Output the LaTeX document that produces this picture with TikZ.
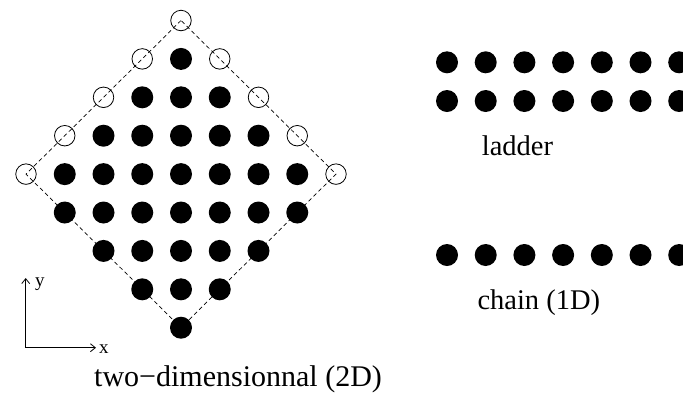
\documentclass[tikz,border=0pt]{standalone}
\usepackage{fontspec}
\setmainfont{Liberation Serif}
\usetikzlibrary{arrows.meta}
\begin{document}
\begin{tikzpicture}[x=1bp,y=-1bp,
  dot/.style={circle,fill=black,minimum size=22bp,inner sep=0pt},
  site/.style={circle,draw=black,line width=0.8bp,minimum size=20.5bp,inner sep=0pt},
  edge/.style={dash pattern=on 4bp off 3bp,line width=0.7bp},
  axis/.style={line width=0.8bp,-{Straight Barb[length=5bp,width=8bp]}},
  lbl/.style={inner sep=0pt,anchor=base west,font=\fontsize{28.5bp}{30bp}\selectfont},
  axlbl/.style={inner sep=0pt,anchor=base west,font=\fontsize{19bp}{20bp}\selectfont}]
\useasboundingbox (0,0) rectangle (683,392);
\def\ox{181}\def\oy{20.5}\def\sx{38.75}\def\sy{38.4}
% diamond outline
\coordinate (T) at (\ox,\oy);
\coordinate (L) at (\ox-4*\sx,\oy+4*\sy);
\coordinate (B) at (\ox,\oy+8*\sy);
\coordinate (R) at (\ox+4*\sx,\oy+4*\sy);
\draw[edge] (T) -- (L) -- (B) -- (R) -- cycle;
% 2D lattice
\foreach \k in {0,...,8}{
  \pgfmathtruncatemacro\m{4-abs(\k-4)}
  \pgfmathtruncatemacro\n{2*\m}
  \foreach \jj in {0,...,\n}{
    \pgfmathtruncatemacro\i{\jj-\m}
    \pgfmathtruncatemacro\isopen{(\k<5)&&(abs(\i)==\k)}
    \ifnum\isopen=1
      \node[site] (s\k\i) at (\ox+\i*\sx,\oy+\k*\sy) {};
    \else
      \node[dot] (s\k\i) at (\ox+\i*\sx,\oy+\k*\sy) {};
    \fi
  }
}
% axes
\coordinate (O) at (25.7,347.7);
\coordinate (Yend) at (25.7,278);
\coordinate (Xend) at (96,347.7);
\draw[axis] (O) -- (Yend);
\draw[axis] (O) -- (Xend);
\node[axlbl] (ylab) at (35,286) {y};
\node[axlbl] (xlab) at (99,353) {x};
\node[lbl,font=\fontsize{30bp}{32bp}\selectfont] (twoD) at (94,386.5) {two−dimensionnal (2D)};
% ladder
\foreach \j in {0,...,6}{
  \node[dot] (la\j) at (447+\j*38.7,62.3) {};
  \node[dot] (lb\j) at (447+\j*38.7,101) {};
  \node[dot] (c\j) at (447+\j*38.7,255) {};
}
\node[lbl] (ladder) at (481.7,155) {ladder};
\node[lbl] (chain) at (477.3,309) {chain (1D)};
\end{tikzpicture}
\end{document}
